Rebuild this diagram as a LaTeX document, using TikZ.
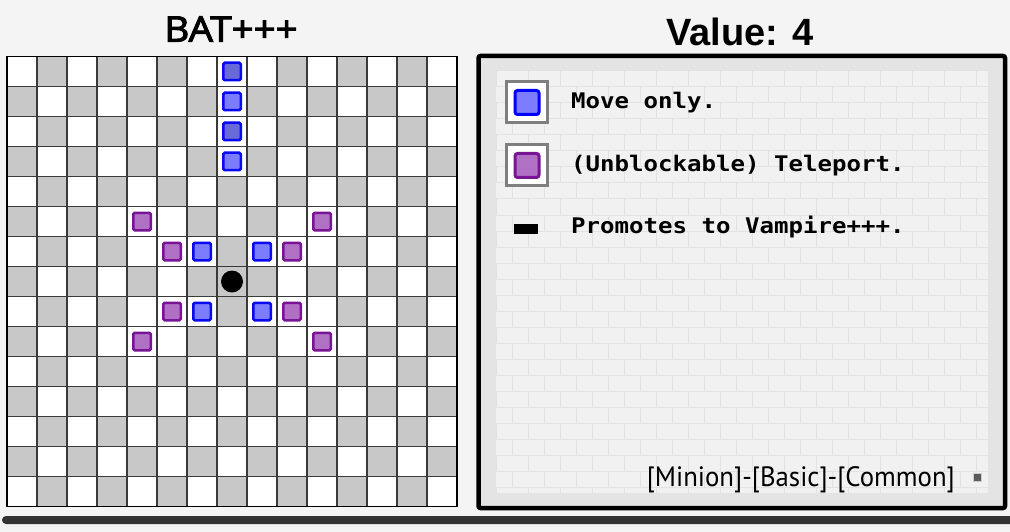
\documentclass[tikz,border=0pt]{standalone}
\usepackage{fontspec}
\setmainfont{Liberation Sans}
\newfontfamily\titlefont[FakeBold=3,FakeStretch=1.1]{Open Sans}
\newfontfamily\legmono[FakeStretch=1.12]{DejaVu Sans Mono}
\newfontfamily\tagfont{PT Sans}
\definecolor{bgcol}{HTML}{F4F4F4}
\definecolor{cellgray}{HTML}{C8C8C8}
\definecolor{gridcol}{HTML}{3A3A3A}
\definecolor{mvborder}{HTML}{0A0AF0}
\definecolor{mvfill}{HTML}{7C7CFF}
\definecolor{tpborder}{HTML}{7A1496}
\definecolor{tpfill}{HTML}{B070C4}
\definecolor{panelgray}{HTML}{E4E4E4}
\definecolor{patterngray}{HTML}{F1F1F1}
\definecolor{patternline}{HTML}{E2E2E2}
\definecolor{legframe}{HTML}{7F7F7F}
\definecolor{barcol}{HTML}{333333}
\tikzset{
  gridline/.style={draw=gridcol, line width=1.4pt},
  mv/.style={draw=mvborder, fill=mvfill, line width=2.5pt, minimum size=17.5pt, inner sep=0pt, rounded corners=1.5pt},
  tp/.style={draw=tpborder, fill=tpfill, line width=2.5pt, minimum size=17.5pt, inner sep=0pt, rounded corners=1.5pt},
  legbox/.style={draw=legframe, fill=white, line width=3pt, minimum size=41pt, inner sep=0pt},
  legmv/.style={draw=blue, fill=mvfill, line width=3pt, minimum size=24pt, inner sep=0pt, rounded corners=2.5pt},
  legtp/.style={draw=tpborder, fill=tpfill, line width=3pt, minimum size=24pt, inner sep=0pt, rounded corners=2.5pt},
  legtext/.style={anchor=base west, inner sep=0pt, font=\legmono\bfseries\fontsize{21.5}{26}\selectfont},
  texture/.style={draw=patternline, line width=1pt},
}
\begin{document}
\begin{tikzpicture}[x=1pt,y=-1pt]
\useasboundingbox (0,0) rectangle (1010,532);
\fill[bgcol] (0,0) rectangle (1010,532);

% titles
\node[inner sep=0pt, font=\titlefont\fontsize{35}{40}\selectfont] (title) at (231,29) {BAT+++};
\node[inner sep=0pt, font=\bfseries\fontsize{38}{44}\selectfont] (value) at (740,31.5) {Value: 4};

% board
\fill[white] (7,56.5) rectangle (457,506.5);
\foreach \c in {0,...,14}{
  \foreach \r in {0,...,14}{
    \pgfmathtruncatemacro\s{mod(\c+\r,2)}
    \ifnum\s=1 \fill[cellgray] (7+30*\c,56.5+30*\r) rectangle ++(30,30);\fi
  }
}
% highlighted cells: markers on white, piece on gray
\foreach \c/\r in {7/0,7/2,6/6,8/6,6/8,8/8,4/5,10/5,5/6,9/6,5/8,9/8,4/9,10/9}{
  \fill[white] (7+30*\c,56.5+30*\r) rectangle ++(30,30);
}
\fill[cellgray] (217,266.5) rectangle ++(30,30);
\foreach \i in {0,...,15}{
  \draw[gridline] (7+30*\i,56.5) -- (7+30*\i,506.5);
  \draw[gridline] (7,56.5+30*\i) -- (457,56.5+30*\i);
}
\draw[draw=black, line width=1.8pt] (7,56.5) rectangle (457,506.5);

% move-only markers
\node[mv, fill=mvfill!85!black] (b1) at (232,71.5) {};
\node[mv] (b2) at (232,101.5) {};
\node[mv, fill=mvfill!85!black] (b3) at (232,131.5) {};
\node[mv] (b4) at (232,161.5) {};
\node[mv] (b5) at (202,251.5) {};
\node[mv] (b6) at (262,251.5) {};
\node[mv] (b7) at (202,311.5) {};
\node[mv] (b8) at (262,311.5) {};
% teleport markers
\node[tp] (p1) at (142,221.5) {};
\node[tp] (p2) at (322,221.5) {};
\node[tp] (p3) at (172,251.5) {};
\node[tp] (p4) at (292,251.5) {};
\node[tp] (p5) at (172,311.5) {};
\node[tp] (p6) at (292,311.5) {};
\node[tp] (p7) at (142,341.5) {};
\node[tp] (p8) at (322,341.5) {};
% piece
\node[circle, fill=black, minimum size=22pt, inner sep=0pt] (piece) at (232,281.5) {};

% panel
\draw[line width=4.5pt, fill=panelgray, rounded corners=2pt] (478.5,56) rectangle (1005,508);
\fill[patterngray] (496,71) rectangle (988,493);
\begin{scope}
  \clip (496,71) rectangle (988,493);
  \foreach \r in {0,...,26}{
    \draw[texture] (496,71+16*\r) -- (988,71+16*\r);
    \pgfmathtruncatemacro\off{mod(\r,2)*16}
    \foreach \k in {0,...,15}{
      \draw[texture] (496+\off+32*\k,71+16*\r) -- ++(0,16);
    }
  }
\end{scope}

% legend
\node[legbox] (lb1) at (527,102.5) {};
\node[legmv] (li1) at (lb1) {};
\node[legtext] (lt1) at (571,108.5) {Move only.};
\node[legbox] (lb2) at (527,165.5) {};
\node[legtp] (li2) at (lb2) {};
\node[legtext] (lt2) at (571,171.5) {(Unblockable) Teleport.};
\node[fill=black, minimum width=24pt, minimum height=10pt, inner sep=0pt] (bar) at (526,228.5) {};
\node[legtext] (lt3) at (571,233.5) {Promotes to Vampire+++.};

% tags
\node[anchor=base east, inner sep=0pt, font=\tagfont\fontsize{28}{32}\selectfont] (tags) at (955,486.5) {\resizebox{308pt}{\height}{[Minion]-[Basic]-[Common]}};
\node[fill=barcol!80, draw=white!80!black, line width=1pt, minimum size=8pt, inner sep=0pt] (sq) at (977,477.5) {};

% bottom bar
\fill[barcol, rounded corners=4pt] (2,516) rectangle (1014,524);
\end{tikzpicture}
\end{document}
